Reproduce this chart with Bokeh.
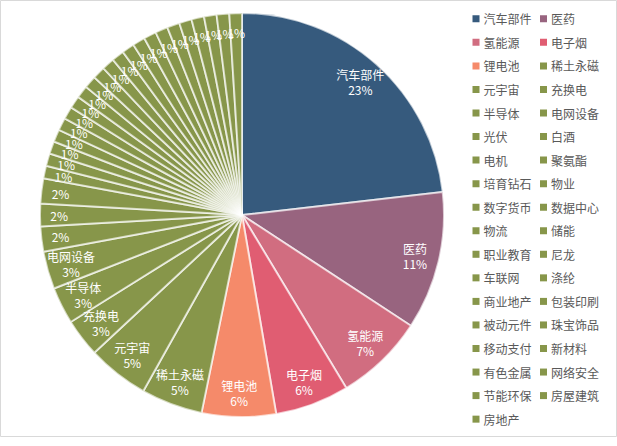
import math
from bokeh.plotting import figure
from bokeh.models import Range1d, ColumnDataSource
from bokeh.core.properties import value
from bokeh.embed import file_html
from bokeh.resources import INLINE

categories = ["汽车部件", "医药", "氢能源", "电子烟", "锂电池", "稀土永磁", "元宇宙", "充换电",
              "半导体", "电网设备", "光伏", "白酒", "电机", "聚氨酯", "培育钻石", "物业",
              "数字货币", "数据中心", "物流", "储能", "职业教育", "尼龙", "车联网", "涤纶",
              "商业地产", "包装印刷", "被动元件", "珠宝饰品", "移动支付", "新材料", "有色金属",
              "网络安全", "节能环保", "房屋建筑", "房地产"]
values = [23.1, 11.0, 7.1, 5.9, 5.9, 4.9, 4.9, 3.05, 2.95, 3.0, 2.0, 1.8, 2.0,
          1.0, 1.0, 1.0, 1.0, 1.0, 1.0, 1.0, 1.0, 1.0, 1.0, 1.0, 1.0, 1.0, 1.0,
          1.0, 1.0, 1.0, 1.0, 1.0, 1.0, 1.0, 1.0]
top_colors = ["#365A7D", "#98647F", "#D16D80", "#E05D72", "#F58A6A"]
green = "#87964A"
colors = top_colors + [green] * (len(categories) - len(top_colors))

W, H = 617, 437
cx, cy_px, R = 241.5, 214.5, 202
cy = H - cy_px

total = sum(values)
starts, ends, mids = [], [], []
cum = 0.0
for v in values:
    a_end = math.pi / 2 - cum / total * 2 * math.pi
    cum += v
    a_start = math.pi / 2 - cum / total * 2 * math.pi
    starts.append(a_start)
    ends.append(a_end)
    mids.append((a_start + a_end) / 2)

p = figure(width=W, height=H, x_range=Range1d(0, W), y_range=Range1d(0, H),
           min_border=0, toolbar_location=None, output_backend="svg")
p.axis.visible = False
p.grid.visible = False
p.outline_line_color = "#d9d9d9"
p.outline_line_width = 1
p.background_fill_color = "white"

src = ColumnDataSource(dict(start=starts, end=ends, color=colors))
p.wedge(x=cx, y=cy, radius=R, start_angle="start", end_angle="end", direction="anticlock",
        fill_color="color", line_color="white", line_width=2, line_alpha=0.65, source=src)

font = value("Noto Sans CJK SC")
nx, ny, nt, px_, py_, pt = [], [], [], [], [], []
ox, oy, ot = [], [], []
for c, v, m in zip(categories, values, mids):
    pct = f"{round(v / total * 100)}%"
    if v >= 2.9:
        r = 0.88 * R
        nx.append(cx + r * math.cos(m)); ny.append(cy + r * math.sin(m)); nt.append(c)
        px_.append(cx + r * math.cos(m)); py_.append(cy + r * math.sin(m)); pt.append(pct)
    else:
        r = 0.905 * R
        ox.append(cx + r * math.cos(m)); oy.append(cy + r * math.sin(m)); ot.append(pct)

p.text(x=nx, y=ny, text=nt, text_font=font, text_font_size="12px", text_color="white",
       text_align="center", text_baseline="middle", y_offset=-7.5)
p.text(x=px_, y=py_, text=pt, text_font=font, text_font_size="12px", text_color="white",
       text_align="center", text_baseline="middle", y_offset=7.5)
p.text(x=ox, y=oy, text=ot, text_font=font, text_font_size="12px", text_color="white",
       text_align="center", text_baseline="middle")

# legend (two columns)
lx, ly, lt = [], [], []
for i, c in enumerate(categories):
    col, row = i % 2, i // 2
    lx.append(475.5 + col * 67.5)
    ly.append(H - (18.3 + row * 23.55))
    lt.append(c)
p.rect(x=lx, y=ly, width=7, height=7, width_units="screen", height_units="screen",
       fill_color=colors, line_color=None)
p.text(x=[x + 7.5 for x in lx], y=ly, text=lt, text_font=font, text_font_size="12px",
       text_color="#595959", text_align="left", text_baseline="middle")

open("out.html", "w").write(file_html(p, INLINE))
